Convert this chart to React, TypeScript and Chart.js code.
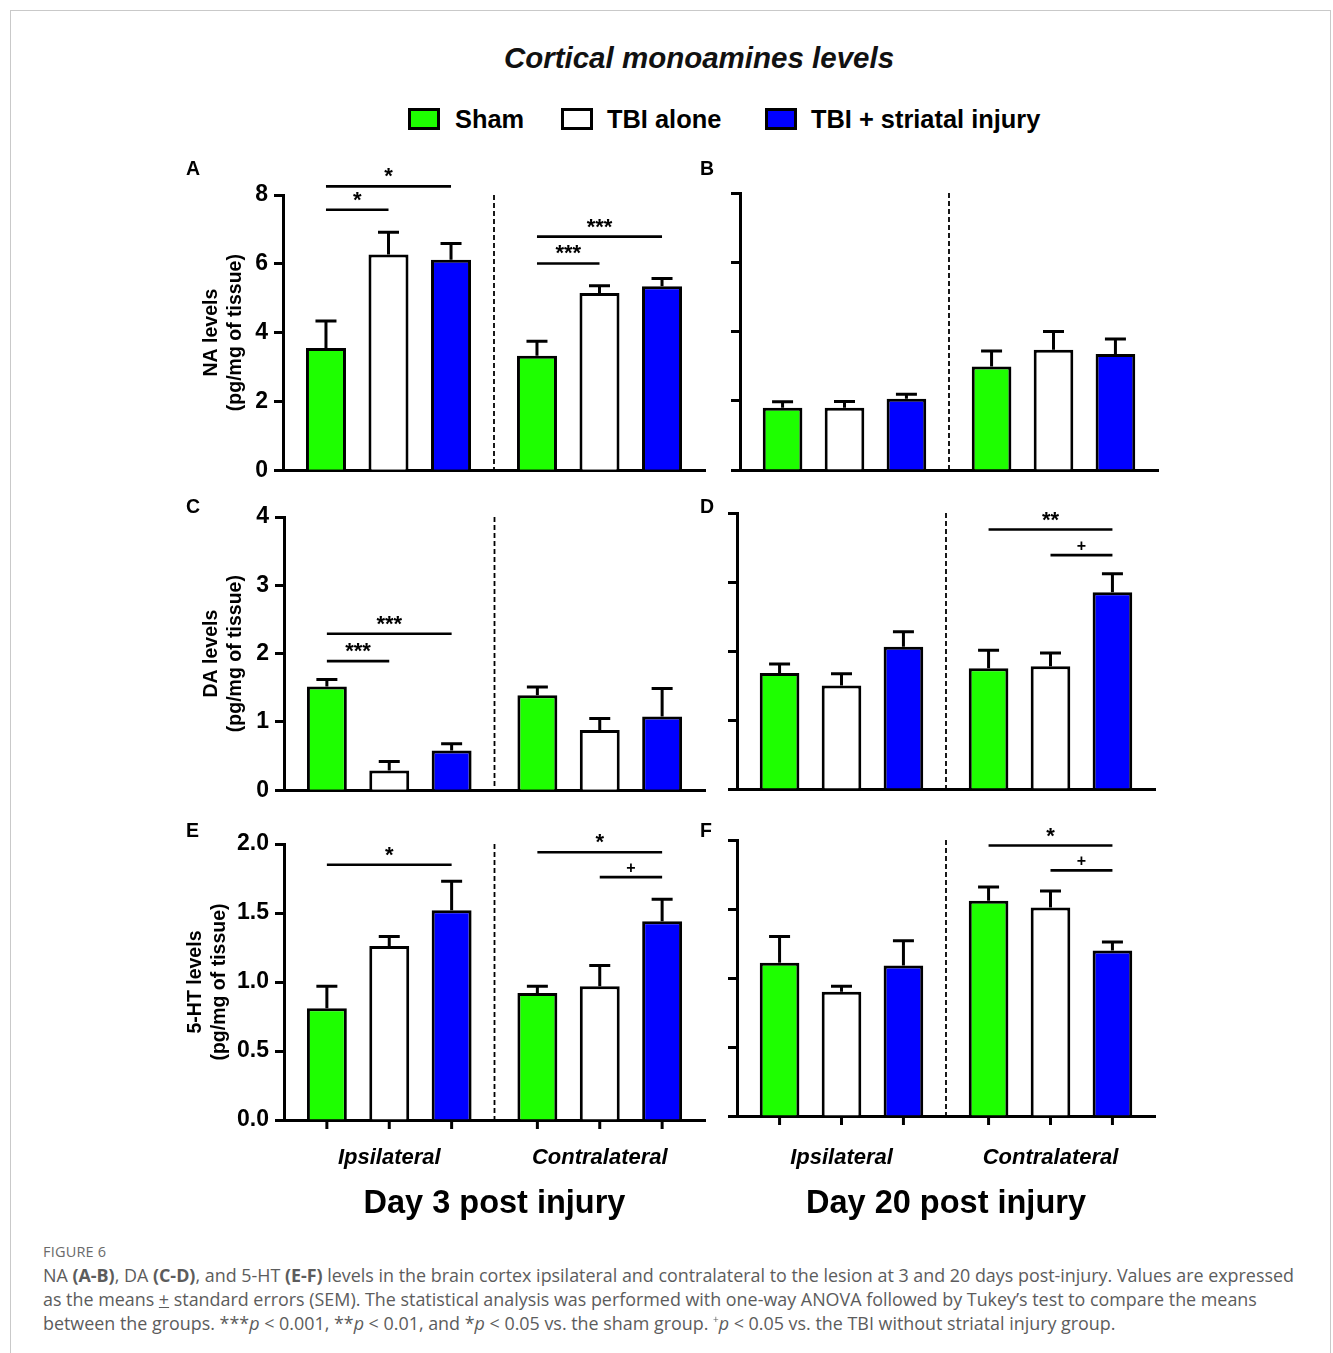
import React, { useEffect, useRef } from 'react';
import { Chart, registerables } from 'chart.js';

Chart.register(...registerables);

const FONT = '"Liberation Sans", Arial, Helvetica, sans-serif';
const CAPTION_FONT = '"Open Sans", "Noto Sans", sans-serif';

// ---------- data ----------
const groupNames = ['Sham', 'TBI alone', 'TBI + striatal injury'];
const sideNames = ['Ipsilateral', 'Contralateral'];
const groupColors = ['#1eff00', '#ffffff', '#0000ff'];

// values: one row per group, [ipsilateral, contralateral]
const naDay3Mean = [[3.55, 3.33], [6.27, 5.15], [6.12, 5.35]];
const naDay3Sem = [[0.79, 0.42], [0.65, 0.21], [0.47, 0.22]];
const naDay3Sig = [
  { side: 0, from: 0, to: 1, at: 7.57, label: '*' },
  { side: 0, from: 0, to: 2, at: 8.25, label: '*' },
  { side: 1, from: 0, to: 1, at: 6.01, label: '***' },
  { side: 1, from: 0, to: 2, at: 6.79, label: '***' },
];

const naDay20Mean = [[1.8, 2.99], [1.8, 3.47], [2.06, 3.35]];
const naDay20Sem = [[0.17, 0.45], [0.18, 0.53], [0.13, 0.43]];
const naDay20Sig: Sig[] = [];

const daDay3Mean = [[1.52, 1.39], [0.29, 0.88], [0.58, 1.08]];
const daDay3Sem = [[0.1, 0.12], [0.13, 0.17], [0.1, 0.41]];
const daDay3Sig = [
  { side: 0, from: 0, to: 1, at: 1.89, label: '***' },
  { side: 0, from: 0, to: 2, at: 2.29, label: '***' },
];

const daDay20Mean = [[1.68, 1.75], [1.5, 1.78], [2.06, 2.85]];
const daDay20Sem = [[0.13, 0.26], [0.17, 0.19], [0.22, 0.27]];
const daDay20Sig = [
  { side: 1, from: 0, to: 2, at: 3.76, label: '**' },
  { side: 1, from: 1, to: 2, at: 3.39, label: '+' },
];

const htDay3Mean = [[0.81, 0.92], [1.26, 0.97], [1.52, 1.44]];
const htDay3Sem = [[0.16, 0.05], [0.07, 0.15], [0.21, 0.16]];
const htDay3Sig = [
  { side: 0, from: 0, to: 2, at: 1.85, label: '*' },
  { side: 1, from: 0, to: 2, at: 1.94, label: '*' },
  { side: 1, from: 1, to: 2, at: 1.76, label: '+' },
];

const htDay20Mean = [[1.11, 1.56], [0.9, 1.51], [1.09, 1.2]];
const htDay20Sem = [[0.19, 0.1], [0.04, 0.12], [0.18, 0.06]];
const htDay20Sig = [
  { side: 1, from: 0, to: 2, at: 1.96, label: '*' },
  { side: 1, from: 1, to: 2, at: 1.78, label: '+' },
];

const naAxisMax = 8;
const naAxisStep = 2;
const daAxisMax = 4;
const daAxisStep = 1;
const htAxisMax = 2;
const htAxisStep = 0.5;

const naTitle = ['NA levels', '(pg/mg of tissue)'];
const daTitle = ['DA levels', '(pg/mg of tissue)'];
const htTitle = ['5-HT levels', '(pg/mg of tissue)'];
const day3Title = 'Day 3 post injury';
const day20Title = 'Day 20 post injury';

// ---------- types ----------
type Sig = { side: number; from: number; to: number; at: number; label: string };
type Box = {
  left: number; top: number; width: number; height: number;
  padTop: number; padRight: number; yWidth: number; xHeight: number;
  yTitlePad?: number; xTickPad?: number; xTitlePad?: number;
};
type PanelCfg = {
  letter: string;
  mean: number[][];
  sem: number[][];
  sig: Sig[];
  max: number;
  step: number;
  decimals: number;
  yTitle?: string[];
  xTitle?: string;
  box: Box;
  letterPos: { left: number; top: number };
};

// ---------- layout ----------
const boxA: Box = { left: 150, top: 150, width: 570, height: 340, padTop: 45, padRight: 15, yWidth: 133, xHeight: 19, yTitlePad: 49 };
const boxB: Box = { left: 720, top: 150, width: 450, height: 340, padTop: 43, padRight: 12, yWidth: 20, xHeight: 20 };
const boxC: Box = { left: 150, top: 495, width: 570, height: 315, padTop: 22, padRight: 15, yWidth: 134, xHeight: 17, yTitlePad: 49 };
const boxD: Box = { left: 720, top: 495, width: 450, height: 315, padTop: 18, padRight: 15, yWidth: 17, xHeight: 21 };
const boxE: Box = { left: 150, top: 812, width: 570, height: 412, padTop: 32, padRight: 15, yWidth: 134, xHeight: 104, yTitlePad: 33, xTickPad: 24.5, xTitlePad: 0 };
const boxF: Box = { left: 720, top: 812, width: 450, height: 412, padTop: 28, padRight: 15, yWidth: 17, xHeight: 108, xTickPad: 28.5, xTitlePad: 0 };

const panels: PanelCfg[] = [
  { letter: 'A', mean: naDay3Mean, sem: naDay3Sem, sig: naDay3Sig, max: naAxisMax, step: naAxisStep, decimals: 0, yTitle: naTitle, box: boxA, letterPos: { left: 186, top: 157 } },
  { letter: 'B', mean: naDay20Mean, sem: naDay20Sem, sig: naDay20Sig, max: naAxisMax, step: naAxisStep, decimals: 0, box: boxB, letterPos: { left: 700, top: 157 } },
  { letter: 'C', mean: daDay3Mean, sem: daDay3Sem, sig: daDay3Sig, max: daAxisMax, step: daAxisStep, decimals: 0, yTitle: daTitle, box: boxC, letterPos: { left: 186, top: 495 } },
  { letter: 'D', mean: daDay20Mean, sem: daDay20Sem, sig: daDay20Sig, max: daAxisMax, step: daAxisStep, decimals: 0, box: boxD, letterPos: { left: 700, top: 495 } },
  { letter: 'E', mean: htDay3Mean, sem: htDay3Sem, sig: htDay3Sig, max: htAxisMax, step: htAxisStep, decimals: 1, yTitle: htTitle, xTitle: day3Title, box: boxE, letterPos: { left: 186, top: 819 } },
  { letter: 'F', mean: htDay20Mean, sem: htDay20Sem, sig: htDay20Sig, max: htAxisMax, step: htAxisStep, decimals: 1, xTitle: day20Title, box: boxF, letterPos: { left: 700, top: 819 } },
];

// ---------- plugins ----------
function makePlugins(cfg: PanelCfg) {
  const separator = {
    id: 'sideSeparator',
    beforeDatasetsDraw(chart: any) {
      const { ctx, chartArea } = chart;
      const xs = chart.scales.x;
      const x = (xs.getPixelForTick(0) + xs.getPixelForTick(1)) / 2;
      ctx.save();
      ctx.strokeStyle = '#000';
      ctx.lineWidth = 1.8;
      ctx.setLineDash([5, 3]);
      ctx.beginPath();
      ctx.moveTo(x, chartArea.top);
      ctx.lineTo(x, chartArea.bottom);
      ctx.stroke();
      ctx.restore();
    },
  };
  const errorBars = {
    id: 'errorBars',
    afterDatasetsDraw(chart: any) {
      const { ctx } = chart;
      const ys = chart.scales.y;
      ctx.save();
      ctx.strokeStyle = '#000';
      ctx.lineWidth = 3;
      chart.data.datasets.forEach((ds: any, di: number) => {
        const meta = chart.getDatasetMeta(di);
        meta.data.forEach((bar: any, i: number) => {
          const top = ys.getPixelForValue(ds.data[i] + cfg.sem[di][i]);
          ctx.beginPath();
          ctx.moveTo(bar.x, bar.y);
          ctx.lineTo(bar.x, top);
          ctx.moveTo(bar.x - 10.5, top);
          ctx.lineTo(bar.x + 10.5, top);
          ctx.stroke();
        });
      });
      ctx.restore();
    },
  };
  const brackets = {
    id: 'sigBrackets',
    afterDatasetsDraw(chart: any) {
      const { ctx } = chart;
      const ys = chart.scales.y;
      ctx.save();
      cfg.sig.forEach((s) => {
        const x1 = chart.getDatasetMeta(s.from).data[s.side].x;
        const x2 = chart.getDatasetMeta(s.to).data[s.side].x;
        const y = ys.getPixelForValue(s.at);
        ctx.strokeStyle = '#000';
        ctx.lineWidth = 2.6;
        ctx.beginPath();
        ctx.moveTo(x1, y);
        ctx.lineTo(x2, y);
        ctx.stroke();
        ctx.fillStyle = '#000';
        ctx.font = `bold ${s.label === '+' ? 16 : 22}px ${FONT}`;
        ctx.textAlign = 'center';
        ctx.textBaseline = 'alphabetic';
        ctx.fillText(s.label, (x1 + x2) / 2, s.label === '+' ? y - 4 : y - 3);
      });
      ctx.restore();
    },
  };
  const barTicks = {
    id: 'barTicks',
    afterDatasetsDraw(chart: any) {
      if (!cfg.xTitle) return;
      const { ctx, chartArea } = chart;
      ctx.save();
      ctx.strokeStyle = '#000';
      ctx.lineWidth = 3;
      chart.data.datasets.forEach((_ds: any, di: number) => {
        chart.getDatasetMeta(di).data.forEach((bar: any) => {
          ctx.beginPath();
          ctx.moveTo(bar.x, chartArea.bottom);
          ctx.lineTo(bar.x, chartArea.bottom + 9);
          ctx.stroke();
        });
      });
      ctx.restore();
    },
  };
  return [separator, errorBars, brackets, barTicks];
}

function Panel({ cfg }: { cfg: PanelCfg }) {
  const ref = useRef<HTMLCanvasElement>(null);
  useEffect(() => {
    if (!ref.current) return;
    const b = cfg.box;
    const showY = !!cfg.yTitle;
    const showX = !!cfg.xTitle;
    const chart = new Chart(ref.current, {
      type: 'bar',
      data: {
        labels: sideNames,
        datasets: groupNames.map((name, gi) => ({
          label: name,
          data: cfg.mean[gi],
          backgroundColor: groupColors[gi],
          borderColor: '#000',
          borderWidth: 3,
          categoryPercentage: 0.889,
          barPercentage: 0.64,
        })),
      },
      options: {
        responsive: false,
        animation: false,
        events: [],
        layout: { padding: { top: b.padTop, right: b.padRight, left: 0, bottom: 0 }, autoPadding: false },
        plugins: { legend: { display: false }, tooltip: { enabled: false }, title: { display: false } },
        scales: {
          x: {
            type: 'category',
            offset: true,
            grid: { display: false, drawTicks: false },
            border: { display: true, color: '#000', width: 3 },
            ticks: {
              display: showX,
              color: '#000',
              padding: b.xTickPad ?? 0,
              font: { family: FONT, size: 22, weight: 'bold', style: 'italic' },
            },
            title: {
              display: showX,
              text: cfg.xTitle ?? '',
              color: '#000',
              padding: { top: 0, bottom: b.xTitlePad ?? 0 },
              font: { family: FONT, size: 32.5, weight: 'bold' },
            },
            afterFit: (s: any) => { s.height = b.xHeight; },
          },
          y: {
            min: 0,
            max: cfg.max,
            grid: { drawOnChartArea: false, drawTicks: true, tickLength: 9, tickWidth: 3, tickColor: '#000' },
            border: { display: true, color: '#000', width: 3 },
            ticks: {
              display: showY,
              stepSize: cfg.step,
              color: '#000',
              padding: 6,
              font: { family: FONT, size: 23, weight: 'bold' },
              callback: (v: any) => Number(v).toFixed(cfg.decimals),
            },
            title: {
              display: showY,
              text: cfg.yTitle ?? '',
              color: '#000',
              padding: { top: b.yTitlePad ?? 0, bottom: 0 },
              font: { family: FONT, size: 19.5, weight: 'bold', lineHeight: 1.25 },
            },
            afterFit: (s: any) => { s.width = b.yWidth; },
          },
        },
      } as any,
      plugins: makePlugins(cfg) as any,
    });
    return () => chart.destroy();
  }, [cfg]);
  const b = cfg.box;
  return (
    <canvas
      ref={ref}
      width={b.width}
      height={b.height}
      style={{ position: 'absolute', left: b.left, top: b.top, width: b.width, height: b.height }}
    />
  );
}

const legendItems = [
  { box: 408, text: 455 },
  { box: 561, text: 607 },
  { box: 765, text: 811 },
];

export default function App() {
  return (
    <div style={{ position: 'absolute', left: 0, top: 0, width: 1333, height: 1353, background: '#fff', overflow: 'hidden', fontFamily: FONT }}>
      <div style={{ position: 'absolute', left: 10, top: 10, width: 1321, height: 1370, border: '1px solid #c9c9c9', boxSizing: 'border-box' }} />
      <div style={{ position: 'absolute', left: 399, top: 38, width: 600, height: 40, lineHeight: '40px', textAlign: 'center', fontSize: 29.5, fontWeight: 'bold', fontStyle: 'italic', color: '#111' }}>
        Cortical monoamines levels
      </div>
      {groupNames.map((name, gi) => (
        <React.Fragment key={name}>
          <div style={{ position: 'absolute', left: legendItems[gi].box, top: 108, width: 32, height: 22, background: groupColors[gi], border: '3px solid #000', boxSizing: 'border-box' }} />
          <div style={{ position: 'absolute', left: legendItems[gi].text, top: 103, height: 32, lineHeight: '32px', fontSize: 25.4, fontWeight: 'bold', color: '#000', whiteSpace: 'nowrap' }}>
            {name}
          </div>
        </React.Fragment>
      ))}
      {panels.map((p) => (
        <React.Fragment key={p.letter}>
          <Panel cfg={p} />
          <div style={{ position: 'absolute', left: p.letterPos.left, top: p.letterPos.top, height: 22, lineHeight: '22px', fontSize: 19.5, fontWeight: 'bold', color: '#000' }}>
            {p.letter}
          </div>
        </React.Fragment>
      ))}
      <div style={{ position: 'absolute', left: 43, top: 1243, fontFamily: CAPTION_FONT, fontSize: 14.5, lineHeight: '18px', color: '#6a6a6a', letterSpacing: 0.2 }}>
        FIGURE 6
      </div>
      <div style={{ position: 'absolute', left: 43, top: 1263, fontFamily: CAPTION_FONT, fontSize: 17.9, lineHeight: '24px', color: '#5c5c5c', whiteSpace: 'nowrap' }}>
        <div style={{ height: 24 }}>NA <b>(A-B)</b>, DA <b>(C-D)</b>, and 5-HT <b>(E-F)</b> levels in the brain cortex ipsilateral and contralateral to the lesion at 3 and 20 days post-injury. Values are expressed</div>
        <div style={{ height: 24 }}>as the means <u>+</u> standard errors (SEM). The statistical analysis was performed with one-way ANOVA followed by Tukey’s test to compare the means</div>
        <div style={{ height: 24 }}>between the groups. ***<i>p</i> &lt; 0.001, **<i>p</i> &lt; 0.01, and *<i>p</i> &lt; 0.05 vs. the sham group. <span style={{ fontSize: 10, position: 'relative', top: -7 }}>+</span><i>p</i> &lt; 0.05 vs. the TBI without striatal injury group.</div>
      </div>
    </div>
  );
}
